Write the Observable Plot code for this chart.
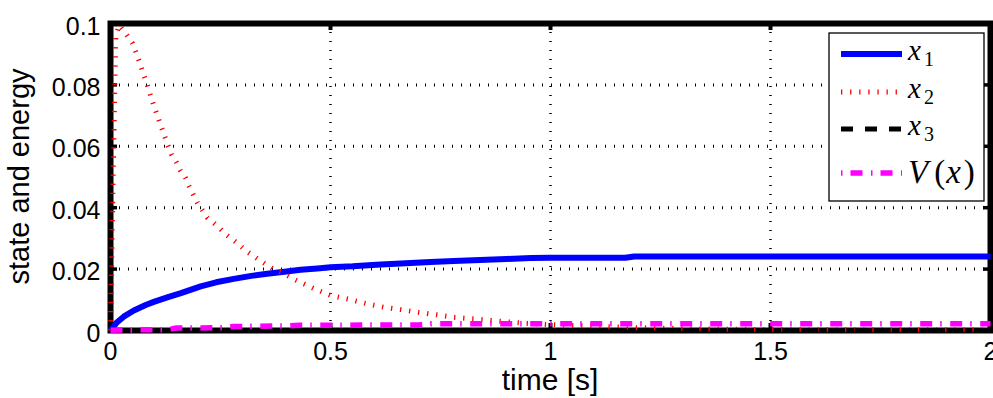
<!DOCTYPE html>
<html><head><meta charset="utf-8">
<script src="https://cdn.jsdelivr.net/npm/d3@7"></script>
<script src="https://cdn.jsdelivr.net/npm/@observablehq/plot@0.6"></script>
<style>
html,body{margin:0;padding:0;background:#fff;}
#chart{width:993px;height:398px;overflow:hidden;}
</style></head><body><div id="chart"></div>
<script>
// ---- data ----
const seriesNames = ["x1", "x2", "x3", "V(x)"];
const xTicks = [0, 0.5, 1, 1.5, 2];
const xTickLabels = ["0", "0.5", "1", "1.5", "2"];
const yTicks = [0, 0.02, 0.04, 0.06, 0.08, 0.1];
const yTickLabels = ["0", "0.02", "0.04", "0.06", "0.08", "0.1"];
const xLabel = "time [s]";
const yLabel = "state and energy";

const t1 = [0, 0.015, 0.03, 0.053, 0.08, 0.1, 0.129, 0.16, 0.205, 0.24, 0.28, 0.32, 0.356, 0.4, 0.432, 0.47, 0.5, 0.55, 0.614, 0.66, 0.727, 0.78, 0.84, 0.9, 0.955, 1.0, 1.17, 1.19, 1.5, 2.0];
const x1 = [0, 0.0027, 0.0045, 0.0065, 0.0083, 0.0094, 0.0108, 0.0122, 0.0144, 0.0157, 0.0168, 0.0178, 0.0185, 0.0192, 0.0198, 0.0202, 0.0206, 0.0209, 0.0215, 0.0218, 0.0223, 0.0226, 0.023, 0.0233, 0.0236, 0.0237, 0.0237, 0.0241, 0.0241, 0.0241];

const t2 = [0, 0.006, 0.012, 0.02, 0.03, 0.041, 0.05, 0.061, 0.068, 0.075, 0.084, 0.091, 0.098, 0.109, 0.12, 0.13, 0.139, 0.15, 0.159, 0.17, 0.178, 0.197, 0.22, 0.243, 0.265, 0.288, 0.31, 0.334, 0.368, 0.39, 0.42, 0.462, 0.5, 0.541, 0.58, 0.62, 0.66, 0.7, 0.743, 0.78, 0.823, 0.864, 0.91, 0.948, 1.0, 1.1, 1.2, 1.35, 1.5, 2.0];
const x2 = [0, 0.05, 0.096, 0.0995, 0.0977, 0.0954, 0.0935, 0.0895, 0.0865, 0.0835, 0.0798, 0.0765, 0.0735, 0.069, 0.0645, 0.0605, 0.0573, 0.0547, 0.0521, 0.0498, 0.0472, 0.0417, 0.0368, 0.034, 0.031, 0.0285, 0.0257, 0.0234, 0.0202, 0.0189, 0.0165, 0.0137, 0.0114, 0.0102, 0.0088, 0.0076, 0.0068, 0.0059, 0.0051, 0.0043, 0.0038, 0.0033, 0.0027, 0.0023, 0.0019, 0.0014, 0.0009, 0.0005, 0.0003, 0.0002];

const t3 = [0, 0.5, 1, 1.5, 2];
const x3 = [0, 0, 0, 0, 0];

const tV = [0, 0.13, 0.15, 0.26, 0.28, 0.4, 0.43, 0.7, 0.73, 2.0];
const vV = [0.0001, 0.0003, 0.0008, 0.0009, 0.0013, 0.0015, 0.0017, 0.0018, 0.0022, 0.0022];

// ---- styles ----
const lineStyles = [
  {stroke: "#0000ff", strokeWidth: 6, strokeDasharray: null, legendDash: null},
  {stroke: "#ff0000", strokeWidth: 5, strokeDasharray: "1.3,7.8", legendDash: "1.3,7.8"},
  {stroke: "#000000", strokeWidth: 5, strokeDasharray: "12,12", legendDash: "12,12"},
  {stroke: "#ff00ff", strokeWidth: 5.5, strokeDasharray: "12,8,1.5,8.5", legendDash: "1.5,8,12,8.5"}
];

const series = [[t1, x1], [t2, x2], [t3, x3], [tV, vV]].map(([t, v], k) =>
  t.map((ti, i) => ({t: ti, v: v[i], name: seriesNames[k]})));

const fmtX = d => xTickLabels[xTicks.indexOf(d)];
const fmtY = d => yTickLabels[yTicks.indexOf(d)];

const plot = Plot.plot({
  width: 993, height: 398,
  marginLeft: 110, marginRight: 3, marginTop: 23, marginBottom: 68,
  x: {domain: [0, 2]},
  y: {domain: [0, 0.1]},
  style: {fontFamily: "'Liberation Sans', Arial, sans-serif", background: "#fff", color: "#000"},
  marks: [
    Plot.ruleY(yTicks.slice(1, -1), {stroke: "#000", strokeWidth: 3, strokeDasharray: "1,8"}),
    Plot.ruleX(xTicks.slice(1, -1), {stroke: "#000", strokeWidth: 2.5, strokeDasharray: "1,8"}),
    Plot.frame({stroke: "#000", strokeWidth: 6}),
    Plot.ruleX(xTicks, {stroke: "#000", strokeWidth: 4, insetTop: 300}),
    Plot.ruleX(xTicks, {stroke: "#000", strokeWidth: 4, insetBottom: 300}),
    Plot.ruleY(yTicks, {stroke: "#000", strokeWidth: 3.5, insetRight: 873}),
    Plot.ruleY(yTicks, {stroke: "#000", strokeWidth: 3.5, insetLeft: 873}),
    Plot.axisX(xTicks, {tickSize: 0, tickPadding: 12, tickFormat: fmtX, fontSize: 25, label: null}),
    Plot.axisY(yTicks, {tickSize: 0, tickPadding: 10, tickFormat: fmtY, fontSize: 25, label: null, dy: 3}),
    ...series.map((data, k) => Plot.line(data, {
      x: "t", y: "v",
      stroke: lineStyles[k].stroke,
      strokeWidth: lineStyles[k].strokeWidth,
      strokeDasharray: lineStyles[k].strokeDasharray,
      strokeLinecap: "butt", strokeLinejoin: "round"
    }))
  ]
});

document.getElementById("chart").appendChild(plot);

const svg = d3.select(plot);

// ---- axis titles ----
svg.append("text").attr("x", 550).attr("y", 390)
  .attr("text-anchor", "middle").attr("font-size", 30)
  .attr("font-family", "'Liberation Sans', Arial, sans-serif").attr("fill", "#000")
  .text(xLabel);
svg.append("text").attr("transform", "translate(29,176.5) rotate(-90)")
  .attr("text-anchor", "middle").attr("font-size", 29)
  .attr("font-family", "'Liberation Sans', Arial, sans-serif").attr("fill", "#000")
  .text(yLabel);

// ---- legend ----
const lg = svg.append("g").attr("class", "legend").attr("text-anchor", "start");
lg.append("rect").attr("x", 829).attr("y", 33).attr("width", 155).attr("height", 168)
  .attr("fill", "#fff").attr("stroke", "#000").attr("stroke-width", 1.3);
const rowY = [54, 92, 129, 173];
seriesNames.forEach((name, k) => {
  const s = lineStyles[k];
  lg.append("line").attr("x1", 841).attr("x2", 902).attr("y1", rowY[k]).attr("y2", rowY[k])
    .attr("stroke", s.stroke).attr("stroke-width", s.strokeWidth)
    .attr("stroke-dasharray", s.legendDash).attr("stroke-linecap", "butt");
  const tx = lg.append("text").attr("x", 908).attr("text-anchor", "start")
    .attr("font-family", "'Liberation Serif', 'Times New Roman', serif").attr("fill", "#000");
  if (name === "V(x)") {
    tx.attr("y", rowY[k] + 10).attr("font-size", 33);
    tx.append("tspan").attr("font-style", "italic").text("V");
    tx.append("tspan").attr("dx", 6).text("(");
    tx.append("tspan").attr("font-style", "italic").attr("dx", 1).text("x");
    tx.append("tspan").attr("dx", 3).text(")");
  } else {
    tx.attr("y", rowY[k] + 6).attr("font-size", 29);
    tx.append("tspan").attr("font-style", "italic").text(name[0]);
    tx.append("tspan").attr("font-size", 20).attr("dx", 3).attr("dy", 6).text(name.slice(1));
  }
});
</script></body></html>
